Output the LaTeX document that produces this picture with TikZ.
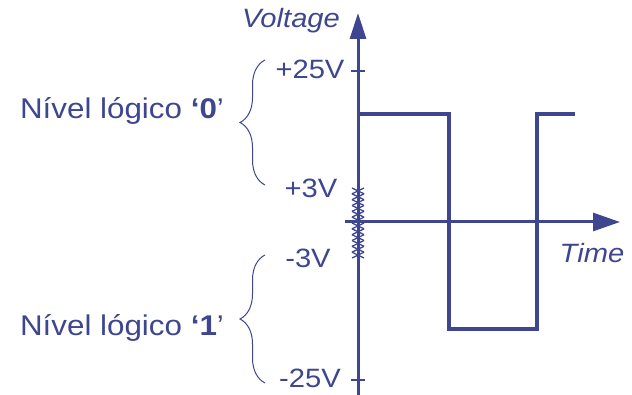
\documentclass[tikz,border=0pt]{standalone}
\usepackage{fontspec}
\setmainfont[FakeStretch=1.1]{Liberation Sans}
\usetikzlibrary{arrows.meta,decorations.pathreplacing}
\definecolor{ink}{RGB}{61,70,143}
\tikzset{
  axisline/.style={ink, line width=3pt},
  waveline/.style={ink, line width=3.6pt, line join=miter},
  tickline/.style={ink, line width=2.6pt},
  hatchline/.style={ink, line width=1.3pt},
  bracel/.style={ink, line width=1pt, decorate, decoration={brace, amplitude=25pt}},
  lbl/.style={text=ink, inner sep=0pt, anchor=base, font=\fontsize{26.5}{30}\selectfont},
  biglbl/.style={text=ink, inner sep=0pt, anchor=base, font=\fontsize{28.5}{32}\selectfont},
}
\begin{document}
\begin{tikzpicture}[x=1pt,y=-1pt]
\useasboundingbox (0,0) rectangle (632,395);
% coordinates
\coordinate (vbot) at (358,395);
\coordinate (vtop) at (358,13);
\coordinate (hleft) at (345,222);
\coordinate (hright) at (620,222);
\coordinate (t25a) at (351,71);
\coordinate (t25b) at (365,71);
\coordinate (tm25a) at (351,380);
\coordinate (tm25b) at (365,380);
\coordinate (w0) at (358,114);
\coordinate (w1) at (449,114);
\coordinate (w2) at (449,329);
\coordinate (w3) at (537,329);
\coordinate (w4) at (537,114);
\coordinate (w5) at (575,114);
\coordinate (b0a) at (265,185);
\coordinate (b0b) at (265,60);
\coordinate (b1a) at (265,383);
\coordinate (b1b) at (265,255);
% hatch (forbidden band)
\foreach \i in {0,...,11}{
  \draw[hatchline] (352,188+\i*5.833) -- (364,188+\i*5.833+5.833);
  \draw[hatchline] (364,188+\i*5.833) -- (352,188+\i*5.833+5.833);
}
% axes
\draw[axisline, -{Triangle[length=26pt,width=16pt]}] (vbot) -- (vtop);
\draw[axisline, -{Triangle[length=27pt,width=18pt]}] (hleft) -- (hright);
\draw[tickline] (t25a) -- (t25b);
\draw[tickline] (tm25a) -- (tm25b);
% square wave
\draw[waveline] (w0) -- (w1) -- (w2) -- (w3) -- (w4) -- (w5);
% braces
\draw[bracel] (b0a) -- (b0b);
\draw[bracel] (b1a) -- (b1b);
% labels
\node[lbl] (voltage) at (291,28) {\itshape Voltage};
\node[lbl] (time) at (592,263) {\itshape Time};
\node[lbl] (p25) at (310,79) {+25V};
\node[lbl] (p3) at (311,198) {+3V};
\node[lbl] (m3) at (308,268) {-3V};
\node[lbl] (m25) at (310,387) {-25V};
\node[biglbl] (n0) at (122,119) {Nível lógico \textbf{‘0}’};
\node[biglbl] (n1) at (122,336) {Nível lógico \textbf{‘1}’};
\end{tikzpicture}
\end{document}
